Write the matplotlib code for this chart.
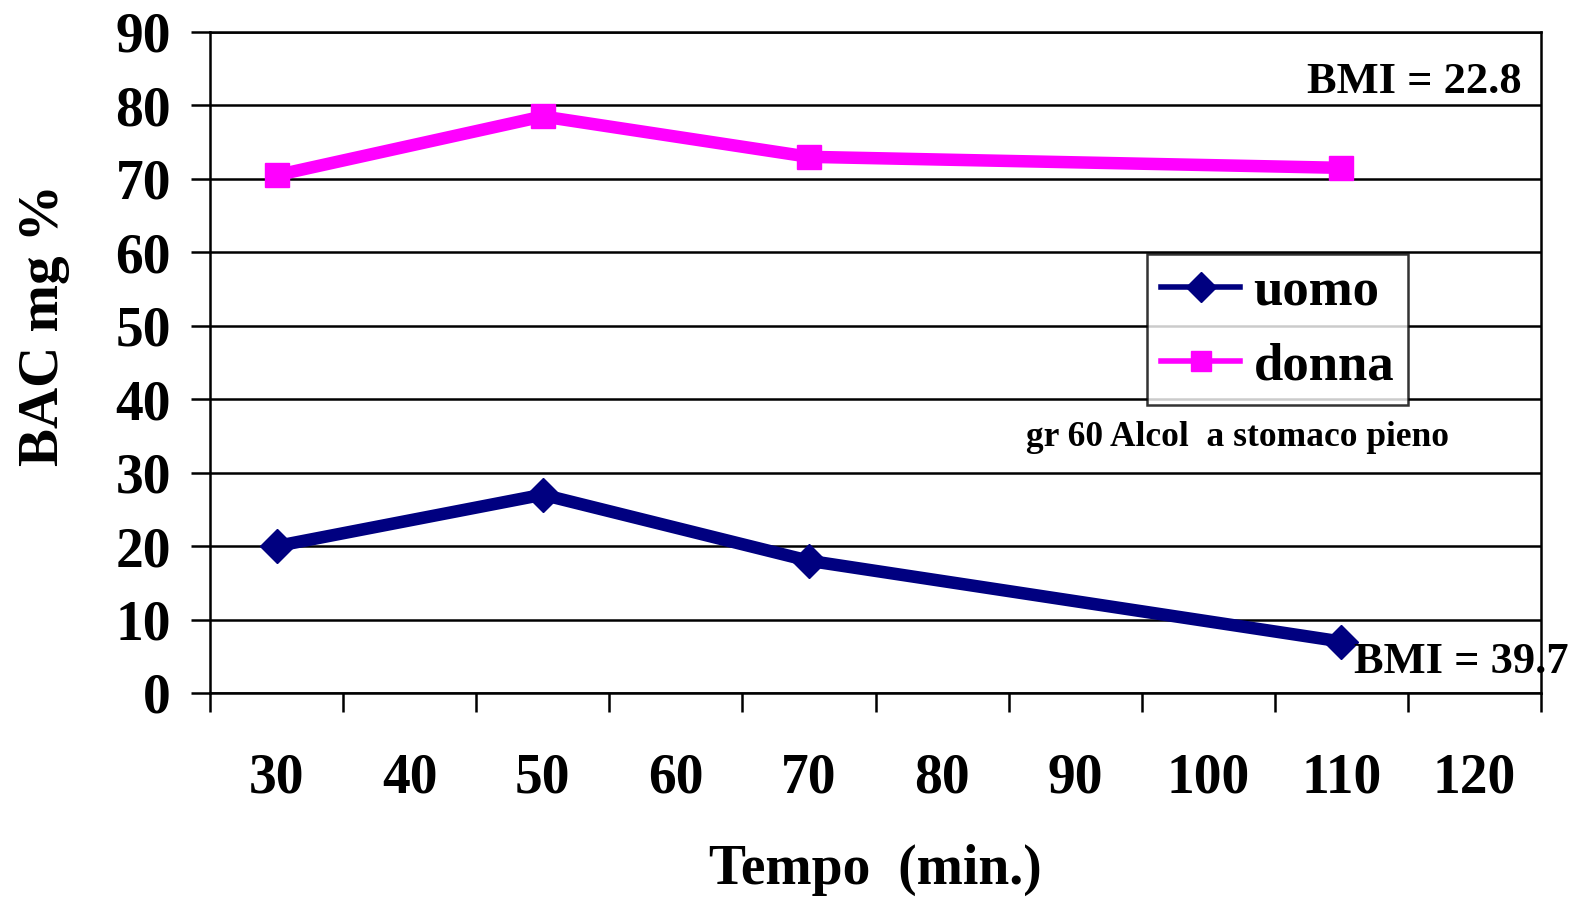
import matplotlib
matplotlib.use("Agg")
import matplotlib.pyplot as plt
from matplotlib.lines import Line2D

plt.rcParams['font.family'] = ['Liberation Serif', 'DejaVu Serif']
plt.rcParams['font.weight'] = 'bold'

# Time categories (minutes) shown on the x axis
categories = [30, 40, 50, 60, 70, 80, 90, 100, 110, 120]
# Sampling times and measured BAC values
sample_times = [30, 50, 70, 110]
uomo = [20, 27, 18, 7]
donna = [70.5, 78.5, 73, 71.5]

y_ticks = [0, 10, 20, 30, 40, 50, 60, 70, 80, 90]

col_uomo = '#000080'
col_donna = '#FF00FF'

fig = plt.figure(figsize=(15.73, 8.98), dpi=100)
ax = fig.add_axes([0.1335, 0.2283, 0.9797 - 0.1335, 0.9644 - 0.2283])

xpos = [categories.index(t) for t in sample_times]

ax.plot(xpos, uomo, color=col_uomo, lw=9, marker='D', ms=17,
        solid_joinstyle='miter', zorder=3)
ax.plot(xpos, donna, color=col_donna, lw=9, marker='s', ms=17,
        solid_joinstyle='miter', zorder=3)

ax.set_xlim(-0.5, len(categories) - 0.5)
ax.set_ylim(0, 90)
ax.set_yticks(y_ticks)
ax.yaxis.grid(True, color='black', lw=1.8)
ax.set_axisbelow(True)

# category boundaries get the tick marks, centres get the labels
ax.set_xticks([i - 0.5 for i in range(len(categories) + 1)])
ax.set_xticklabels([])
ax.set_xticks(range(len(categories)), minor=True)
ax.set_xticklabels([str(c) for c in categories], minor=True)
ax.tick_params(axis='x', which='major', length=14, width=1.8, direction='out')
ax.tick_params(axis='x', which='minor', length=0, pad=43, labelsize=40)
ax.tick_params(axis='y', length=14, width=1.8, direction='out', pad=14, labelsize=40)

for s in ax.spines.values():
    s.set_linewidth(1.8)
    s.set_color('black')

ax.set_xlabel('Tempo  (min.)', fontsize=40, fontweight='bold', labelpad=28)
ax.set_ylabel('BAC mg %', fontsize=41, fontweight='bold')
ax.yaxis.set_label_coords(-0.105, 0.556)

fig.text(1522 / 1573, 1 - 82 / 898, 'BMI = 22.8', fontsize=32, fontweight='bold',
         ha='right', va='center')
fig.text(1354 / 1573, 1 - 662 / 898, 'BMI = 39.7', fontsize=32, fontweight='bold',
         ha='left', va='center', zorder=5)
fig.text(1238 / 1573, 1 - 438 / 898, 'gr 60 Alcol  a stomaco pieno', fontsize=25.5,
         fontweight='bold', ha='center', va='center')

handles = [Line2D([], [], color=col_uomo, lw=4, marker='D', ms=15),
           Line2D([], [], color=col_donna, lw=4, marker='s', ms=15)]
leg = ax.legend(handles, ['uomo', 'donna'], loc='upper left',
                bbox_to_anchor=(1147 / 1573, 1 - 254 / 898), bbox_transform=fig.transFigure,
                fontsize=38, frameon=True, fancybox=False, edgecolor='black',
                handlelength=1.5, handletextpad=0.25, borderpad=0.27, labelspacing=0.5,
                borderaxespad=0)
leg.get_frame().set_linewidth(1.8)
for t in leg.get_texts():
    t.set_fontweight('bold')

fig.savefig('out.png', dpi=100)
